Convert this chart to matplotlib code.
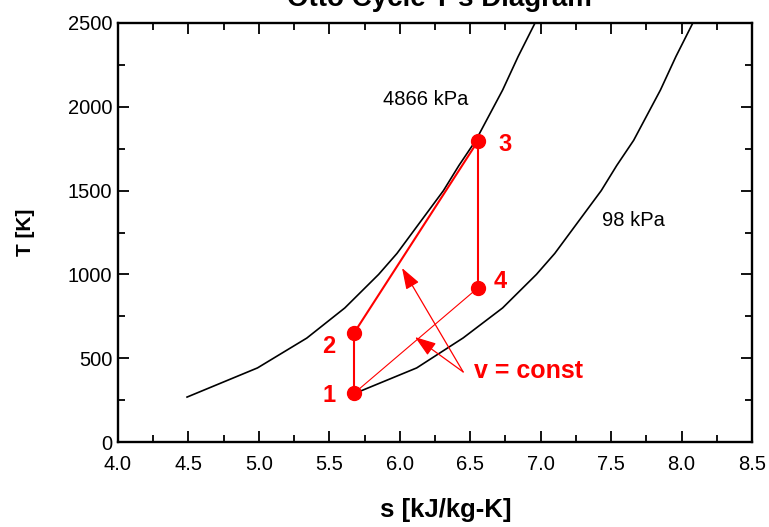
import matplotlib
matplotlib.use("Agg")
import matplotlib.pyplot as plt
from matplotlib.ticker import MultipleLocator, FormatStrFormatter

plt.rcParams['font.family'] = ['Liberation Sans', 'DejaVu Sans']

# Isobar 4866 kPa
s_high = [4.49, 4.99, 5.34, 5.61, 5.85, 5.98, 6.09, 6.20, 6.31, 6.42, 6.54, 6.635, 6.73, 6.84, 6.96]
T_high = [268, 442, 620, 800, 1000, 1125, 1250, 1375, 1500, 1650, 1800, 1950, 2100, 2300, 2500]
# Isobar 98 kPa
s_low = [5.71, 6.12, 6.45, 6.73, 6.97, 7.10, 7.21, 7.32, 7.43, 7.54, 7.66, 7.755, 7.85, 7.96, 8.08]
T_low = [300, 442, 621, 800, 1000, 1125, 1250, 1375, 1500, 1650, 1800, 1950, 2100, 2300, 2500]
# Cycle state points
state_labels = ['1', '2', '3', '4']
s_state = [5.675, 5.675, 6.555, 6.555]
T_state = [290, 650, 1796, 920]

title = "Otto Cycle T-s Diagram"

fig = plt.figure(figsize=(7.69, 5.27), dpi=100)
ax = fig.add_axes([118/769, 1-442/527, (752-118)/769, (442-23)/527])

ax.plot(s_high, T_high, color='black', lw=1.2)
ax.plot(s_low, T_low, color='black', lw=1.2)

red = '#ff0000'
# processes
ax.plot([s_state[0], s_state[1]], [T_state[0], T_state[1]], color=red, lw=1.5)
ax.plot([s_state[1], s_state[2]], [T_state[1], T_state[2]], color=red, lw=1.5)
ax.plot([s_state[2], s_state[3]], [T_state[2], T_state[3]], color=red, lw=1.5)
ax.plot([s_state[3], s_state[0]], [T_state[3], T_state[0]], color=red, lw=0.8)
ax.plot(s_state, T_state, 'o', color=red, ms=10, ls='none')

label_off = [(-0.18, -10), (-0.18, -80), (0.19, -20), (0.16, 40)]
for lab, s, T, (dx, dy) in zip(state_labels, s_state, T_state, label_off):
    ax.text(s + dx, T + dy, lab, color=red, fontsize=17, fontweight='bold',
            ha='center', va='center')

ax.text(5.88, 2045, "4866 kPa", fontsize=14.5, va='center', ha='left')
ax.text(7.435, 1320, "98 kPa", fontsize=14.5, va='center', ha='left')

# v = const annotation
tail = (6.45, 418)
for tip in [(6.016, 1038), (6.108, 626)]:
    ax.annotate("", xy=tip, xytext=tail,
                arrowprops=dict(arrowstyle='-|>,head_length=1.3,head_width=0.45',
                                color=red, lw=0.9, shrinkA=0, shrinkB=0))
ax.text(6.53, 425, "v = const", color=red, fontsize=18, fontweight='bold',
        ha='left', va='center')

ax.set_xlim(4.0, 8.5)
ax.set_ylim(0, 2500)
ax.xaxis.set_major_locator(MultipleLocator(0.5))
ax.xaxis.set_minor_locator(MultipleLocator(0.25))
ax.yaxis.set_major_locator(MultipleLocator(500))
ax.yaxis.set_minor_locator(MultipleLocator(250))
ax.xaxis.set_major_formatter(FormatStrFormatter('%.1f'))
ax.tick_params(which='both', direction='in', top=True, right=True, width=1.3,
               labelsize=14.5)
ax.tick_params(axis='y', which='both', pad=4)
ax.tick_params(axis='x', which='both', pad=9)
ax.tick_params(which='major', length=8)
ax.tick_params(which='minor', length=5)
for sp in ax.spines.values():
    sp.set_linewidth(1.7)

ax.set_xlabel("s [kJ/kg-K]", fontsize=18.5, fontweight='bold')
ax.xaxis.set_label_coords((446 - 118) / (752 - 118), -(498 - 442) / (442 - 23))
ax.set_ylabel("T [K]", fontsize=15, fontweight='bold', labelpad=24)

fig.text(0.571, 1 - 6/527, title, fontsize=20, fontweight='bold',
         ha='center', va='baseline')

fig.savefig("out.png", dpi=100)
